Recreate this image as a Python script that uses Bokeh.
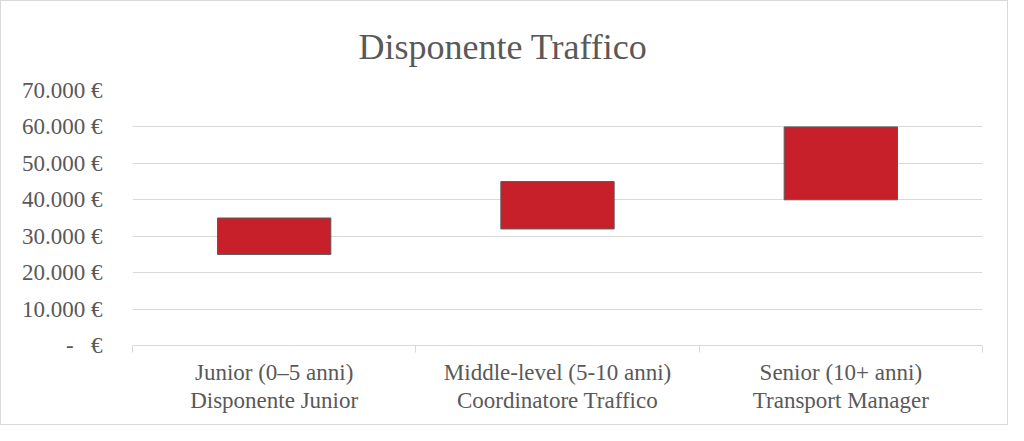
import numpy as np
from bokeh.plotting import figure
from bokeh.models import Range1d, FixedTicker
from bokeh.embed import file_html
from bokeh.resources import INLINE

# ---- data ----
chart_title = "Disponente Traffico"
categories = [
    "Junior (0\u20135 anni)\nDisponente Junior",
    "Middle-level (5-10 anni)\nCoordinatore Traffico",
    "Senior (10+ anni)\nTransport Manager",
]
salary_min = [25000, 32000, 40000]
salary_max = [35000, 45000, 60000]
y_ticks = [0, 10000, 20000, 30000, 40000, 50000, 60000, 70000]
y_tick_labels = ["-\u00a0\u00a0\u00a0\u20ac", "10.000 \u20ac", "20.000 \u20ac", "30.000 \u20ac",
                 "40.000 \u20ac", "50.000 \u20ac", "60.000 \u20ac", "70.000 \u20ac"]

# ---- styling ----
FONT = "Liberation Serif"
TEXT = "#595959"
GRID = "#d9d9d9"

n = len(categories)
x_centers = list(np.arange(n) + 0.5)
boundaries = list(range(n + 1))

p = figure(width=1008, height=425, output_backend="svg", toolbar_location=None,
           x_range=Range1d(0, n), y_range=Range1d(y_ticks[0], y_ticks[-1]),
           min_border_left=131, min_border_right=27, min_border_top=89, min_border_bottom=81)
p.styles = {"border": "1px solid #d9d9d9"}
p.outline_line_color = None
p.background_fill_color = "white"
p.border_fill_color = "white"

p.title.text = chart_title
p.title.align = "left"
p.title.vertical_align = "middle"
p.title.offset = 226
p.title.standoff = 46
p.title.text_font = FONT
p.title.text_font_size = "36px"
p.title.text_font_style = "normal"
p.title.text_color = TEXT

p.vbar(x=x_centers, bottom=salary_min, top=salary_max, width=0.4,
       fill_color="#c8202a", line_color="#5a5a5a", line_width=1)

p.xgrid.visible = False
p.ygrid.grid_line_color = GRID
p.ygrid.grid_line_width = 1

ya = p.yaxis[0]
ya.ticker = FixedTicker(ticks=y_ticks, minor_ticks=[])
ya.major_label_overrides = {t: l for t, l in zip(y_ticks, y_tick_labels)}
ya.axis_line_color = None
ya.major_tick_line_color = None
ya.minor_tick_line_color = None
ya.major_label_standoff = 24
ya.major_label_text_font = FONT
ya.major_label_text_font_size = "23px"
ya.major_label_text_color = TEXT

xa = p.xaxis[0]
xa.ticker = FixedTicker(ticks=x_centers, minor_ticks=boundaries)
xa.major_label_overrides = {float(c): l for c, l in zip(x_centers, categories)}
xa.axis_line_color = GRID
xa.axis_line_width = 1
xa.major_tick_line_color = None
xa.minor_tick_line_color = GRID
xa.minor_tick_in = 0
xa.minor_tick_out = 7
xa.major_label_standoff = 7
xa.major_label_text_font = FONT
xa.major_label_text_font_size = "23px"
xa.major_label_text_color = TEXT
xa.major_label_text_line_height = 1.12

open("out.html", "w").write(file_html(p, INLINE))
